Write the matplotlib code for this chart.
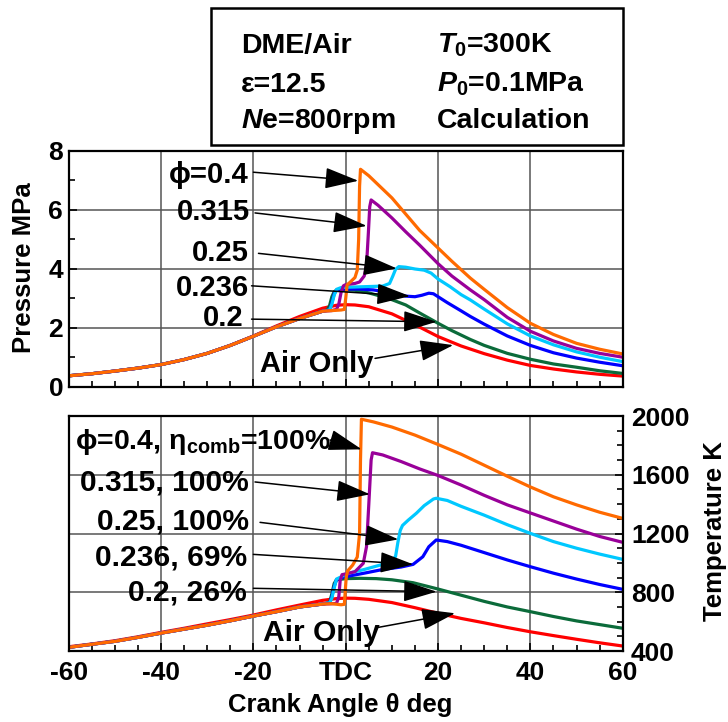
import matplotlib
matplotlib.use('Agg')
import matplotlib.pyplot as plt
from matplotlib.patches import Rectangle
from matplotlib.ticker import MultipleLocator

plt.rcParams['font.family'] = ['Liberation Sans', 'DejaVu Sans']
plt.rcParams['font.weight'] = 'bold'
plt.rcParams['mathtext.fontset'] = 'custom'
plt.rcParams['mathtext.rm'] = 'Liberation Sans:bold'
plt.rcParams['mathtext.it'] = 'Liberation Sans:italic:bold'
plt.rcParams['mathtext.bf'] = 'Liberation Sans:bold'

# ---- pressure data (MPa) ----
th_base = [-60, -55, -50, -45, -40, -35, -30, -25, -20, -15, -10, -5]
p_base = [0.37, 0.44, 0.53, 0.63, 0.75, 0.92, 1.13, 1.40, 1.71, 2.03, 2.31, 2.56]

th_air = [-60, -55, -50, -45, -40, -35, -30, -25, -20, -15, -10, -5, -2, 0, 2, 5, 10, 15, 20, 25, 30, 35, 40, 45, 50, 55, 60]
p_air = [0.37, 0.44, 0.53, 0.63, 0.75, 0.92, 1.13, 1.40, 1.72, 2.06, 2.38, 2.66, 2.76, 2.78, 2.77, 2.71, 2.47, 2.10, 1.70, 1.38, 1.12, 0.90, 0.72, 0.60, 0.50, 0.42, 0.36]

th_p02 = [-4, -3.5, -3, -2.5, -2, 0, 2, 5, 8, 10, 13, 16, 20, 23, 27, 30, 35, 40, 45, 50, 55, 60]
p_02 = [2.60, 2.75, 3.05, 3.22, 3.27, 3.28, 3.27, 3.18, 3.05, 2.95, 2.77, 2.50, 2.15, 1.90, 1.60, 1.40, 1.13, 0.93, 0.77, 0.66, 0.54, 0.45]

th_p0236 = [-3.5, -3, -2.5, -2, -1, 0, 3, 6, 10, 13, 15, 16.5, 18, 19, 20, 22, 25, 27, 30, 35, 40, 45, 50, 55, 60]
p_0236 = [2.60, 2.85, 3.15, 3.27, 3.30, 3.31, 3.31, 3.28, 3.18, 3.07, 3.05, 3.10, 3.17, 3.15, 3.05, 2.85, 2.57, 2.38, 2.12, 1.72, 1.40, 1.15, 0.97, 0.83, 0.71]

th_p025 = [-3.5, -3, -2.5, -2, -1, 0, 4, 8, 9.5, 10.2, 10.8, 11.5, 13, 15, 17, 18.5, 20, 22.6, 25, 27, 30, 35, 40, 45, 50, 55, 60]
p_025 = [2.60, 2.80, 3.10, 3.30, 3.36, 3.37, 3.39, 3.41, 3.50, 3.75, 3.98, 4.07, 4.05, 3.99, 3.95, 3.85, 3.65, 3.39, 3.12, 2.94, 2.63, 2.13, 1.72, 1.42, 1.18, 1.00, 0.85]

th_p0315 = [-3, -2, -1.5, -1, -0.5, 0, 2, 3, 4, 4.5, 4.9, 5.2, 5.5, 7, 10, 13, 16, 20, 23, 27, 30, 35, 40, 45, 50, 55, 60]
p_0315 = [2.58, 2.62, 2.80, 3.20, 3.42, 3.46, 3.50, 3.55, 3.75, 4.10, 5.20, 6.10, 6.33, 6.15, 5.72, 5.25, 4.80, 4.17, 3.75, 3.28, 2.95, 2.35, 1.88, 1.55, 1.30, 1.13, 1.00]

th_p04 = [-3, -1, -0.3, 0, 0.3, 1, 2, 2.5, 2.8, 3.0, 3.2, 5, 8, 10, 13, 16, 20, 23, 27, 30, 35, 40, 45, 50, 55, 60]
p_04 = [2.58, 2.60, 2.62, 3.00, 3.45, 3.55, 3.70, 3.95, 5.00, 6.80, 7.37, 7.15, 6.70, 6.40, 5.85, 5.30, 4.70, 4.25, 3.68, 3.30, 2.68, 2.15, 1.77, 1.47, 1.27, 1.11]

# ---- temperature data (K) ----
t_base = [425, 446, 466, 493, 522, 549, 576, 606, 638, 668, 700, 720]

th_tair = [-60, -55, -50, -45, -40, -35, -30, -25, -20, -15, -10, -5, -2, 0, 2, 5, 10, 15, 20, 25, 30, 35, 40, 45, 50, 55, 60]
t_air = [429, 448, 470, 497, 527, 555, 585, 614, 645, 680, 713, 745, 757, 760, 759, 752, 730, 695, 657, 622, 592, 560, 531, 505, 480, 456, 434]

th_t02 = [-3.5, -3, -2.5, -2, 0, 3, 6.6, 10, 14.6, 20, 25, 30, 35, 40, 45, 50, 55, 60]
t_02 = [730, 790, 860, 885, 893, 895, 893, 885, 865, 822, 780, 738, 700, 668, 635, 605, 580, 555]

th_t0236 = [-3.5, -3, -2.5, -2, -1, 0, 4, 8, 12, 14.6, 16.7, 18, 19.6, 22, 25, 30, 35, 40, 45, 50, 55, 60]
t_0236 = [728, 770, 840, 885, 900, 906, 930, 955, 972, 990, 1042, 1110, 1156, 1145, 1120, 1070, 1020, 974, 930, 890, 853, 820]

th_t025 = [-3.5, -3, -2.5, -2, -1, 0, 4, 8, 10, 10.8, 11.3, 11.8, 12.3, 13.5, 15.3, 17, 19, 19.6, 22, 25, 30, 35, 40, 45, 50, 55, 60]
t_025 = [728, 760, 830, 890, 905, 925, 955, 990, 1010, 1045, 1140, 1220, 1255, 1290, 1338, 1390, 1435, 1440, 1425, 1385, 1325, 1260, 1201, 1145, 1100, 1060, 1024]

th_t0315 = [-3, -2, -1.5, -1.2, -0.8, 0, 2, 3.8, 4.5, 5, 5.5, 5.8, 8, 12, 16, 20, 25, 30, 35, 40, 45, 50, 55, 60]
t_0315 = [722, 724, 770, 880, 920, 925, 940, 997, 1110, 1400, 1700, 1750, 1735, 1690, 1640, 1595, 1530, 1460, 1395, 1340, 1285, 1230, 1180, 1140]

th_t04 = [-3, -1, -0.3, 0.1, 0.4, 1.5, 2.5, 3.0, 3.2, 3.4, 6, 10, 15, 20, 25, 30, 35, 40, 45, 50, 55, 60]
t_04 = [722, 715, 718, 900, 945, 985, 1040, 1200, 1700, 1978, 1960, 1925, 1870, 1806, 1740, 1665, 1590, 1517, 1450, 1395, 1345, 1303]

colors = {'air': '#FF0000', '0.2': '#0B6B3A', '0.236': '#0000FF',
          '0.25': '#00C8FF', '0.315': '#990099', '0.4': '#FF6A00'}

fig = plt.figure(figsize=(7.28, 7.22), dpi=100)
ax1 = fig.add_axes([0.0944, 0.4644, 0.761, 0.3269])
ax2 = fig.add_axes([0.0944, 0.0983, 0.761, 0.3255])

lw = 2.3
# pressure
ax1.plot(th_air, p_air, color=colors['air'], lw=lw)
ax1.plot(th_base + th_p02, p_base + p_02, color=colors['0.2'], lw=lw)
ax1.plot(th_base + th_p0236, p_base + p_0236, color=colors['0.236'], lw=lw)
ax1.plot(th_base + th_p025, p_base + p_025, color=colors['0.25'], lw=lw)
ax1.plot(th_base + th_p0315, p_base + p_0315, color=colors['0.315'], lw=lw)
ax1.plot(th_base + th_p04, p_base + p_04, color=colors['0.4'], lw=lw)

# temperature
ax2.plot(th_tair, t_air, color=colors['air'], lw=lw)
ax2.plot(th_base + th_t02, t_base + t_02, color=colors['0.2'], lw=lw)
ax2.plot(th_base + th_t0236, t_base + t_0236, color=colors['0.236'], lw=lw)
ax2.plot(th_base + th_t025, t_base + t_025, color=colors['0.25'], lw=lw)
ax2.plot(th_base + th_t0315, t_base + t_0315, color=colors['0.315'], lw=lw)
ax2.plot(th_base + th_t04, t_base + t_04, color=colors['0.4'], lw=lw)

for ax in (ax1, ax2):
    ax.set_xlim(-60, 60)
    ax.xaxis.set_major_locator(MultipleLocator(20))
    ax.xaxis.set_minor_locator(MultipleLocator(5))
    ax.grid(True, which='major', color='#555555', lw=1.1)
    for s in ax.spines.values():
        s.set_linewidth(1.6)
    ax.tick_params(which='both', direction='in', width=1.2, labelsize=19)
    ax.tick_params(which='major', length=6)
    ax.tick_params(which='minor', length=4)

ax1.set_ylim(0, 8)
ax1.yaxis.set_major_locator(MultipleLocator(2))
ax1.yaxis.set_minor_locator(MultipleLocator(1))
ax1.tick_params(axis='x', labelbottom=False)
ax1.tick_params(axis='y', pad=4)

ax2.set_ylim(400, 2000)
ax2.yaxis.set_major_locator(MultipleLocator(400))
ax2.yaxis.set_minor_locator(MultipleLocator(100))
ax2.yaxis.tick_right()
ax2.tick_params(axis='y', pad=6)
ax2.tick_params(axis='x', pad=7)
ax2.set_xticks([-60, -40, -20, 0, 20, 40, 60])
ax2.set_xticklabels(['-60', '-40', '-20', 'TDC', '20', '40', '60'])

fig.text(0.033, 0.6295, 'Pressure MPa', rotation=90, ha='center', va='center', fontsize=18.5)
fig.text(0.982, 0.265, 'Temperature K', rotation=90, ha='center', va='center', fontsize=18.5)
fig.text(0.467, 0.0235, 'Crank Angle θ deg', ha='center', va='center', fontsize=18.5)

# info box
fig.patches.append(Rectangle((0.2898, 0.7992), 0.566, 0.1893, transform=fig.transFigure,
                             fill=False, lw=1.8, ec='black'))
fs_box = 20.5
fig.text(0.331, 0.927, 'DME/Air', fontsize=fs_box, va='baseline')
fig.text(0.331, 0.873, 'ε=12.5', fontsize=fs_box, va='baseline')
fig.text(0.331, 0.8223, '$N$e=800rpm', fontsize=fs_box, va='baseline')
fig.text(0.600, 0.927, '$T_0$=300K', fontsize=fs_box, va='baseline')
fig.text(0.600, 0.873, '$P_0$=0.1MPa', fontsize=fs_box, va='baseline')
fig.text(0.600, 0.8223, 'Calculation', fontsize=fs_box, va='baseline')

arrow = dict(arrowstyle='-|>,head_length=1.05,head_width=0.33', mutation_scale=20,
             color='black', lw=1.1, shrinkA=0, shrinkB=0)

# (text, x, y, ha, fontsize, arrow start, arrow tip)
top_notes = [
    ('ϕ=0.4', -20.95, 6.90, 'right', 21, (-20.0, 7.27), (2.73, 6.98)),
    ('0.315', -20.7, 5.65, 'right', 21, (-19.65, 5.89), (4.55, 5.45)),
    ('0.25', -21.1, 4.27, 'right', 21, (-18.9, 4.52), (11.05, 4.01)),
    ('0.236', -20.9, 3.07, 'right', 21, (-20.4, 3.42), (13.93, 3.07)),
    ('0.2', -22.2, 2.06, 'right', 21, (-20.4, 2.29), (19.7, 2.20)),
    ('Air Only', -18.56, 0.50, 'left', 21, (6.35, 0.96), (23.3, 1.41)),
]
for txt, x, y, ha, fs, a0, a1 in top_notes:
    ax1.text(x, y, txt, ha=ha, va='baseline', fontsize=fs)
    ax1.annotate('', xy=a1, xytext=a0, arrowprops=arrow)

bot_notes = [
    ('ϕ=0.4, η$_{\\mathrm{comb}}$=100%', -58.6, 1773, 'left', 20.5, (-3.4, 1837), (3.47, 1773)),
    ('0.315, 100%', -20.9, 1491, 'right', 21.6, (-19.65, 1551), (5.26, 1467)),
    ('0.25, 100%', -20.95, 1229, 'right', 21.6, (-18.56, 1276), (11.4, 1160)),
    ('0.236, 69%', -21.4, 981, 'right', 21.6, (-20.0, 1058), (14.64, 990)),
    ('0.2, 26%', -21.4, 747, 'right', 21.6, (-20.0, 827), (19.7, 804)),
    ('Air Only', -17.9, 470, 'left', 21.6, (6.7, 559), (23.7, 657)),
]
for txt, x, y, ha, fs, a0, a1 in bot_notes:
    ax2.text(x, y, txt, ha=ha, va='baseline', fontsize=fs)
    ax2.annotate('', xy=a1, xytext=a0, arrowprops=arrow)

plt.savefig('out.png', dpi=100)
